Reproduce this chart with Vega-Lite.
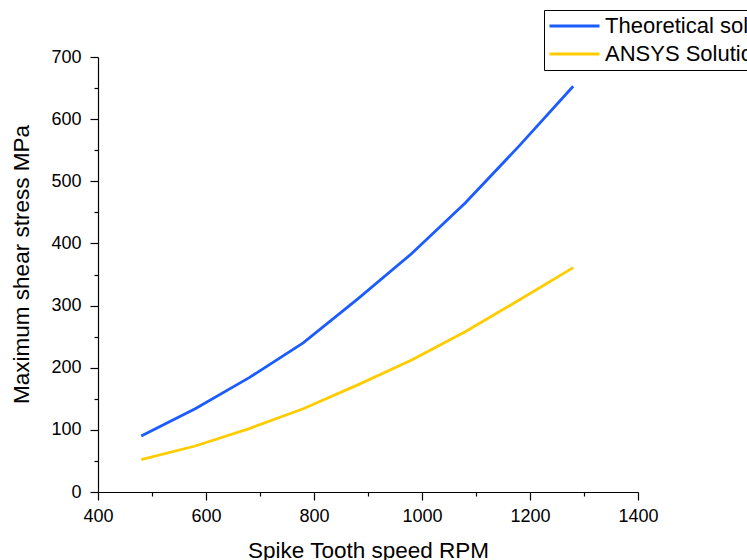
{
  "$schema": "https://vega.github.io/schema/vega-lite/v6.json",
  "width": 540,
  "height": 435,
  "autosize": {"type": "none"},
  "padding": {"left": 98, "top": 57, "right": 109, "bottom": 68},
  "background": "white",
  "config": {
    "view": {"stroke": null},
    "font": "Liberation Sans"
  },
  "data": {
    "values": [
      {"rpm": 480, "stress": 90, "series": "Theoretical solution"},
      {"rpm": 580, "stress": 134, "series": "Theoretical solution"},
      {"rpm": 680, "stress": 184, "series": "Theoretical solution"},
      {"rpm": 780, "stress": 240, "series": "Theoretical solution"},
      {"rpm": 880, "stress": 310, "series": "Theoretical solution"},
      {"rpm": 980, "stress": 383, "series": "Theoretical solution"},
      {"rpm": 1080, "stress": 465, "series": "Theoretical solution"},
      {"rpm": 1180, "stress": 557, "series": "Theoretical solution"},
      {"rpm": 1280, "stress": 653, "series": "Theoretical solution"},
      {"rpm": 480, "stress": 52, "series": "ANSYS Solution"},
      {"rpm": 580, "stress": 74, "series": "ANSYS Solution"},
      {"rpm": 680, "stress": 102, "series": "ANSYS Solution"},
      {"rpm": 780, "stress": 134, "series": "ANSYS Solution"},
      {"rpm": 880, "stress": 172, "series": "ANSYS Solution"},
      {"rpm": 980, "stress": 212, "series": "ANSYS Solution"},
      {"rpm": 1080, "stress": 258, "series": "ANSYS Solution"},
      {"rpm": 1180, "stress": 309, "series": "ANSYS Solution"},
      {"rpm": 1280, "stress": 361, "series": "ANSYS Solution"}
    ]
  },
  "mark": {"type": "line", "strokeWidth": 2.8, "clip": false},
  "encoding": {
    "x": {
      "field": "rpm",
      "type": "quantitative",
      "scale": {"domain": [400, 1400], "nice": false, "zero": false},
      "axis": {
        "title": "Spike Tooth speed RPM",
        "values": [400, 500, 600, 700, 800, 900, 1000, 1100, 1200, 1300, 1400],
        "format": "d",
        "labelExpr": "datum.value % 200 === 0 ? datum.label : ''",
        "grid": false,
        "domainColor": "black",
        "domainWidth": 1.2,
        "tickColor": "black",
        "tickWidth": 1.2,
        "tickSize": {"condition": {"test": "datum.value % 200 === 0", "value": 8}, "value": 4},
        "labelPadding": 7,
        "labelFontSize": 18,
        "labelColor": "black",
        "labelFlush": false,
        "labelOverlap": false,
        "titleFontSize": 22.5,
        "titleFontWeight": "normal",
        "titleColor": "black",
        "titleBaseline": "alphabetic",
        "titleY": 65
      }
    },
    "y": {
      "field": "stress",
      "type": "quantitative",
      "scale": {"domain": [0, 700], "nice": false},
      "axis": {
        "title": "Maximum shear stress MPa",
        "values": [0, 50, 100, 150, 200, 250, 300, 350, 400, 450, 500, 550, 600, 650, 700],
        "format": "d",
        "labelExpr": "datum.value % 100 === 0 ? datum.label : ''",
        "grid": false,
        "domainColor": "black",
        "domainWidth": 1.2,
        "tickColor": "black",
        "tickWidth": 1.2,
        "tickSize": {"condition": {"test": "datum.value % 100 === 0", "value": 8}, "value": 4},
        "labelPadding": 9,
        "labelFontSize": 18,
        "labelColor": "black",
        "labelFlush": false,
        "labelOverlap": false,
        "titleFontSize": 22.5,
        "titleFontWeight": "normal",
        "titleColor": "black",
        "titleBaseline": "alphabetic",
        "titleAlign": "center",
        "titleX": -70,
        "titleY": 207
      }
    },
    "color": {
      "field": "series",
      "type": "nominal",
      "sort": ["Theoretical solution", "ANSYS Solution"],
      "scale": {"domain": ["Theoretical solution", "ANSYS Solution"], "range": ["#1a5cff", "#ffcc00"]},
      "legend": {
        "title": null,
        "orient": "none",
        "legendX": 446,
        "legendY": -47,
        "strokeColor": "black",
        "padding": 4,
        "symbolType": "stroke",
        "symbolSize": 2500,
        "symbolStrokeWidth": 2.8,
        "clipHeight": 24,
        "labelFontSize": 22,
        "labelColor": "black",
        "labelLimit": 0,
        "labelOffset": 4,
        "rowPadding": 4
      }
    }
  }
}
